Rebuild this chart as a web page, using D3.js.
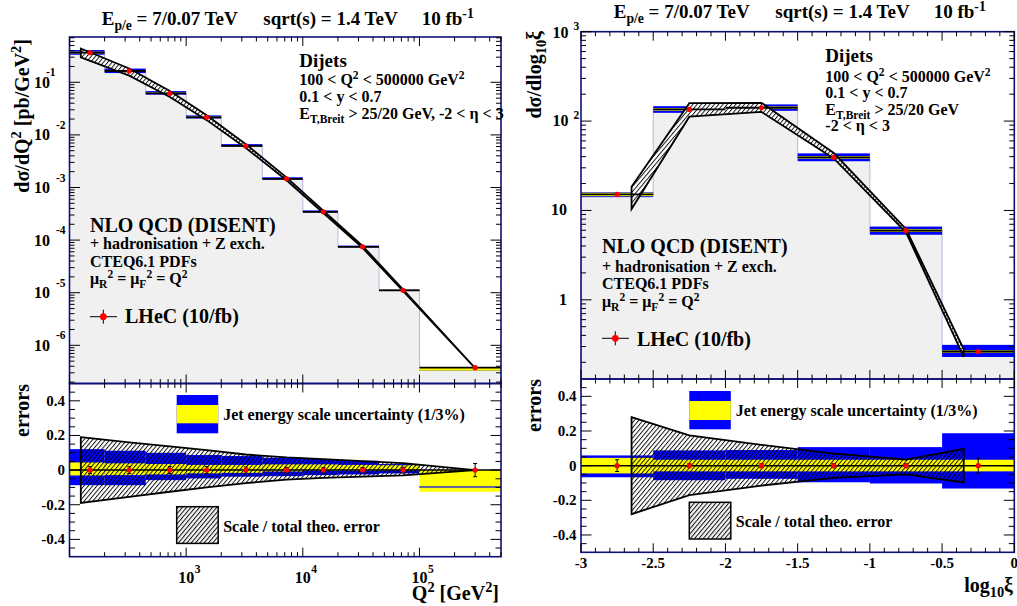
<!DOCTYPE html>
<html><head><meta charset="utf-8">
<script src="https://cdn.jsdelivr.net/npm/d3@7"></script>
<style>
body{margin:0;background:#fff}
svg{display:block}
text{font-family:"Liberation Serif","Times New Roman",serif;font-weight:bold;fill:#000;white-space:pre}
</style>
</head><body><svg id="c" width="1017" height="606"></svg>
<script>
// ---------------- DATA ----------------
// Left: dσ/dQ²
const q2Edges   = [100, 200, 450, 1000, 2000, 4500, 10000, 20000, 45000, 100000, 500000];
const q2Centers = [150, 325, 725, 1500, 3250, 7250, 15000, 32500, 72500, 300000];
const q2Vals    = [0.366, 0.164, 0.0618, 0.0216, 0.00618, 0.00146, 3.45e-4, 7.46e-5, 1.11e-5, 3.76e-7];
const q2Err     = [0.02, 0.02, 0.02, 0.02, 0.018, 0.016, 0.015, 0.015, 0.016, 0.038];
const q2JesYhi  = [0.044, 0.039, 0.035, 0.030, 0.030, 0.033, 0.033, 0.030, 0.028, 0.0];
const q2JesYlo  = [-0.031, -0.029, -0.025, -0.019, -0.016, -0.008, -0.004, -0.003, -0.002, -0.125];
const q2JesBhi  = [0.121, 0.112, 0.100, 0.087, 0.081, 0.071, 0.064, 0.054, 0.035, -0.094];
const q2JesBlo  = [-0.087, -0.087, -0.058, -0.048, -0.038, -0.035, -0.029, -0.025, -0.019, -0.099];
const q2ThX     = [125, 325, 725, 1500, 3250, 7250, 15000, 32500, 72500, 300000];
const q2ThVal   = [0.369, 0.158, 0.060, 0.0212, 0.0061, 0.00145, 3.42e-4, 7.4e-5, 1.1e-5, 3.7e-7];
const q2ThUp    = [0.19, 0.16, 0.137, 0.115, 0.09, 0.073, 0.063, 0.052, 0.04, 0.0];
const q2ThDn    = [0.19, 0.155, 0.125, 0.10, 0.075, 0.055, 0.045, 0.038, 0.03, 0.0];
const q2YTicks  = [-1, -2, -3, -4, -5, -6];      // labelled exponents
const q2XTicks  = [3, 4, 5];                     // labelled exponents

// Right: dσ/dlog10ξ
const xiEdges   = [-3, -2.5, -2, -1.5, -1, -0.5, 0];
const xiCenters = [-2.75, -2.25, -1.75, -1.25, -0.75, -0.25];
const xiVals    = [15.1, 135, 141, 39.3, 5.96, 0.264];
const xiErr     = [0.034, 0.012, 0.012, 0.012, 0.012, 0.043];
const xiJesYhi  = [0.045, 0.034, 0.034, 0.034, 0.034, 0.034];
const xiJesYlo  = [-0.045, -0.033, -0.033, -0.033, -0.033, -0.033];
const xiJesBhi  = [0.059, 0.088, 0.090, 0.107, 0.107, 0.187];
const xiJesBlo  = [-0.067, -0.084, -0.076, -0.096, -0.103, -0.132];
const xiThX     = [-2.65, -2.25, -1.75, -1.25, -0.75, -0.35];
const xiThVal   = [14.4, 135, 143, 41, 6.0, 0.255];
const xiThUp    = [0.28, 0.175, 0.12, 0.07, 0.035, 0.097];
const xiThDn    = [0.28, 0.17, 0.115, 0.07, 0.05, 0.097];
const xiXTicks  = ["-3", "-2.5", "-2", "-1.5", "-1", "-0.5", "0"];
const errTicks  = ["0.4", "0.2", "0", "-0.2", "-0.4"];

const titleParts = ["E_{p/e} = 7/0.07 TeV", "sqrt(s) = 1.4 TeV", "10 fb^{-1}"];
const cutLinesL = ["100 < Q^{2} < 500000 GeV^{2}", "0.1 < y < 0.7", "E_{T,Breit} > 25/20 GeV, -2 < η < 3"];
const cutLinesR = ["100 < Q^{2} < 500000 GeV^{2}", "0.1 < y < 0.7", "E_{T,Breit} > 25/20 GeV", "-2 < η < 3"];
const theoLines = ["+ hadronisation + Z exch.", "CTEQ6.1 PDFs", "μ_{R}^{2} = μ_{F}^{2} = Q^{2}"];

// ---------------- HELPERS ----------------
const svg = d3.select('#c');
const defs = svg.append('defs');
const pat = defs.append('pattern').attr('id','hatch').attr('patternUnits','userSpaceOnUse')
  .attr('width',3.3).attr('height',10).attr('patternTransform','rotate(40)');
pat.append('line').attr('x1',0.5).attr('y1',0).attr('x2',0.5).attr('y2',10).attr('stroke','#000').attr('stroke-width',0.9);

function rich(sel, str, size){
  const re=/([_^])\{([^}]*)\}/g; let last=0,m; const parts=[];
  while((m=re.exec(str))){ if(m.index>last) parts.push({t:str.slice(last,m.index),k:0}); parts.push({t:m[2],k:m[1]==='^'?1:-1}); last=re.lastIndex; }
  if(last<str.length) parts.push({t:str.slice(last),k:0});
  let cur=0;
  parts.forEach(p=>{
    const tgt = p.k===1? -0.38*size : p.k===-1? 0.25*size : 0;
    sel.append('tspan').attr('dy',tgt-cur).attr('font-size',p.k? size*0.72: size).text(p.t);
    cur=tgt;
  });
  return sel;
}
function txt(x,y,str,size,anchor){
  const t=svg.append('text').attr('x',x).attr('y',y).attr('font-size',size).attr('text-anchor',anchor||'start');
  return rich(t,str,size);
}
const isPow10 = v => Math.abs(Math.log10(v)-Math.round(Math.log10(v)))<1e-6;
const NAVY = '#10107a';

// ---------------- PANELS ----------------
const panels = [
 { name:'L', x0:69.5, x1:501, tTop:37, tBot:383.5, bBot:556.7,
   x: d3.scaleLog().domain([100,5e5]).range([69.5,501]),
   yT: d3.scaleLog().domain([1.88e-7,0.726]).range([383.5,37]),
   edges:q2Edges, centers:q2Centers, vals:q2Vals, err:q2Err,
   yhi:q2JesYhi, ylo:q2JesYlo, bhi:q2JesBhi, blo:q2JesBlo,
   thX:q2ThX, thV:q2ThVal, thU:q2ThUp, thD:q2ThDn },
 { name:'R', x0:581, x1:1014.3, tTop:31.7, tBot:379, bBot:552.3,
   x: d3.scaleLinear().domain([-3,0]).range([581,1014.3]),
   yT: d3.scaleLog().domain([0.13,1000]).range([379,31.7]),
   edges:xiEdges, centers:xiCenters, vals:xiVals, err:xiErr,
   yhi:xiJesYhi, ylo:xiJesYlo, bhi:xiJesBhi, blo:xiJesBlo,
   thX:xiThX, thV:xiThVal, thU:xiThUp, thD:xiThDn }
];

panels.forEach(P=>{
  P.yB = d3.scaleLinear().domain([-0.5,0.5]).range([P.bBot,P.tBot]);
  const x=P.x, yT=P.yT, yB=P.yB, n=P.vals.length;
  const gT = svg.append('g');
  const clipId='clip'+P.name;
  defs.append('clipPath').attr('id',clipId).append('rect').attr('x',P.x0).attr('y',P.tTop).attr('width',P.x1-P.x0).attr('height',P.bBot-P.tTop);
  gT.attr('clip-path',`url(#${clipId})`);

  // --- top: histogram fill
  let d=`M${x(P.edges[0])},${P.tBot}`;
  P.vals.forEach((v,i)=>{ d+=`V${yT(v)}H${x(P.edges[i+1])}`; });
  d+=`V${P.tBot}`;
  gT.append('path').attr('d',d).attr('fill','#f0f0f0').attr('stroke','#b4b8dc').attr('stroke-width',1);

  // --- top: JES bands
  P.vals.forEach((v,i)=>{
    const xa=x(P.edges[i]), xb=x(P.edges[i+1]);
    gT.append('rect').attr('x',xa).attr('width',xb-xa).attr('y',yT(v*(1+P.bhi[i]))).attr('height',Math.max(1,yT(v*(1+P.blo[i]))-yT(v*(1+P.bhi[i])))).attr('fill','#0000ff');
    gT.append('rect').attr('x',xa).attr('width',xb-xa).attr('y',yT(v*(1+P.yhi[i]))).attr('height',Math.max(1,yT(v*(1+P.ylo[i]))-yT(v*(1+P.yhi[i])))).attr('fill','#ffff00');
  });

  // --- top: theory band
  const upT = P.thX.map((xx,i)=>[x(xx), yT(P.thV[i]*(1+P.thU[i]))]);
  const dnT = P.thX.map((xx,i)=>[x(xx), yT(P.thV[i]*(1-P.thD[i]))]).reverse();
  const polyT = d3.line()(upT.concat(dnT))+'Z';
  gT.append('path').attr('d',polyT).attr('fill','#fff');
  gT.append('path').attr('d',polyT).attr('fill','url(#hatch)').attr('stroke','#000').attr('stroke-width',1.8).attr('stroke-linejoin','miter');

  // --- top: data
  P.vals.forEach((v,i)=>{
    gT.append('line').attr('x1',x(P.edges[i])).attr('x2',x(P.edges[i+1])).attr('y1',yT(v)).attr('y2',yT(v)).attr('stroke','#000').attr('stroke-width',1.8);
    gT.append('line').attr('x1',x(P.centers[i])).attr('x2',x(P.centers[i])).attr('y1',yT(v*(1+P.err[i]))).attr('y2',yT(v*(1-P.err[i]))).attr('stroke','#000').attr('stroke-width',1);
    gT.append('circle').attr('cx',x(P.centers[i])).attr('cy',yT(v)).attr('r',2.6).attr('fill','#ff0000');
  });

  // --- bottom: JES relative bands
  const gB = svg.append('g').attr('clip-path',`url(#${clipId})`);
  const band=(i,lo,hi,col)=>{ const xa=x(P.edges[i]), xb=x(P.edges[i+1]);
    gB.append('rect').attr('x',xa).attr('width',xb-xa).attr('y',yB(hi)).attr('height',Math.max(1.2,yB(lo)-yB(hi))).attr('fill',col); };
  for(let i=0;i<n;i++) band(i,P.blo[i],P.bhi[i],'#0000ff');
  for(let i=0;i<n;i++) band(i,P.ylo[i],P.yhi[i],'#ffff00');
  for(let i=0;i<n;i++) if(P.blo[i]>=P.ylo[i] && P.bhi[i]<=P.yhi[i]) band(i,P.blo[i],P.bhi[i],'#0000ff');

  // --- bottom: theory relative band
  const upB = P.thX.map((xx,i)=>[x(xx), yB(P.thU[i])]);
  const dnB = P.thX.map((xx,i)=>[x(xx), yB(-P.thD[i])]).reverse();
  gB.append('path').attr('d',d3.line()(upB.concat(dnB))+'Z').attr('fill','url(#hatch)').attr('stroke','#000').attr('stroke-width',1.8);

  // zero line
  gB.append('line').attr('x1',P.x0).attr('x2',P.x1).attr('y1',yB(0)).attr('y2',yB(0)).attr('stroke','#000').attr('stroke-width',1.5);
  P.vals.forEach((v,i)=>{
    const cx=x(P.centers[i]);
    gB.append('line').attr('x1',cx).attr('x2',cx).attr('y1',yB(P.err[i])).attr('y2',yB(-P.err[i])).attr('stroke','#000').attr('stroke-width',1);
    [P.err[i],-P.err[i]].forEach(e=>gB.append('line').attr('x1',cx-2).attr('x2',cx+2).attr('y1',yB(e)).attr('y2',yB(e)).attr('stroke','#000').attr('stroke-width',1));
    gB.append('circle').attr('cx',cx).attr('cy',yB(0)).attr('r',2.6).attr('fill','#ff0000');
  });

  // --- frames
  [[P.tTop,P.tBot],[P.tBot,P.bBot]].forEach(([a,b])=>{
    svg.append('rect').attr('x',P.x0).attr('y',a).attr('width',P.x1-P.x0).attr('height',b-a).attr('fill','none').attr('stroke',NAVY).attr('stroke-width',1.6);
  });

  // --- ticks
  const tk = svg.append('g').attr('stroke','#000').attr('stroke-width',1);
  const xt = P.name==='L' ? x.ticks() : d3.range(-30,1).map(k=>k/10);
  const xMajor = v => P.name==='L' ? isPow10(v) : Math.abs(v*2-Math.round(v*2))<1e-6;
  [[P.tTop,1],[P.tBot,-1],[P.tBot,1],[P.bBot,-1]].forEach(([yy,dir])=>{
    xt.forEach(v=>{ const L= xMajor(v)?9:4.5; const xx=x(v);
      if(xx<P.x0-0.1||xx>P.x1+0.1) return;
      tk.append('line').attr('x1',xx).attr('x2',xx).attr('y1',yy).attr('y2',yy+dir*L); });
  });
  yT.ticks().forEach(v=>{ const yy=yT(v); const L=isPow10(v)?10.5:5;
    tk.append('line').attr('x1',P.x0).attr('x2',P.x0+L).attr('y1',yy).attr('y2',yy);
    tk.append('line').attr('x1',P.x1).attr('x2',P.x1-L).attr('y1',yy).attr('y2',yy); });
  d3.range(-10,11).map(k=>k*0.05).forEach(v=>{ if(Math.abs(v)>0.499) return; const yy=yB(v);
    const maj=Math.abs(v*5-Math.round(v*5))<1e-6; const L=maj?10.5:5.5;
    tk.append('line').attr('x1',P.x0).attr('x2',P.x0+L).attr('y1',yy).attr('y2',yy);
    tk.append('line').attr('x1',P.x1).attr('x2',P.x1-L).attr('y1',yy).attr('y2',yy); });

  // --- lower tick labels
  errTicks.forEach(s=>{ txt(P.x0-4.5, yB(+s)+5, s, 15, 'end'); });

  // --- legends in lower panel
  const lx = P.name==='L'?176.7:689.3, lw=41.5;
  const ly = P.name==='L'?395:391;
  const bh = P.name==='L'?[10,18.3,10]:[10,19,9.3];
  svg.append('rect').attr('x',lx).attr('y',ly).attr('width',lw).attr('height',bh[0]+bh[1]+bh[2]).attr('fill','#0000ff');
  svg.append('rect').attr('x',lx).attr('y',ly+bh[0]).attr('width',lw).attr('height',bh[1]).attr('fill','#ffff00');
  txt(lx+46.5, ly+24.5, "Jet energy scale uncertainty (1/3%)", 16);
  const l2y = P.name==='L'?506.7:502.3, l2h=36.7;
  svg.append('rect').attr('x',lx).attr('y',l2y).attr('width',lw).attr('height',l2h).attr('fill','#f0f0f0');
  svg.append('rect').attr('x',lx).attr('y',l2y).attr('width',lw).attr('height',l2h).attr('fill','url(#hatch)').attr('stroke','#000').attr('stroke-width',1.5);
  txt(lx+46.5, l2y+25, "Scale / total theo. error", 16);
});

// ---------------- LEFT AXIS LABELS ----------------
const PL=panels[0], PR=panels[1];
q2YTicks.forEach(e=>{
  const yy=PL.yT(Math.pow(10,e));
  txt(50, yy+5.5, "10", 16, 'end');
  txt(e===-1?46:56, yy-6, String(e), 11.5, 'start');
});
q2XTicks.forEach(e=>{
  const xx=PL.x(Math.pow(10,e));
  txt(xx, 583.3, "10", 16, 'middle');
  txt(xx+8.5, 572.5, String(e), 11.5, 'start');
});
xiXTicks.forEach(s=>{ txt(PR.x(+s), 568, s, 15, 'middle'); });
[3,2].forEach(e=>{ const yy=PR.yT(Math.pow(10,e));
  txt(568.5, yy+(e===3?6.6:4.5), "10", 16, 'end');
  txt(573.5, yy-(e===3?1.7:2.5), String(e), 11.5, 'start'); });
[[10,"10"],[1,"1"]].forEach(([v,s])=>{ txt(567, PR.yT(v)+5, s, 16, 'end'); });

// ---------------- TITLES ----------------
[[101.7,263.3,421.7,25],[613.7,775.3,933.7,18.3]].forEach(([a,b,c,y])=>{
  txt(a,y,titleParts[0],19); txt(b,y,titleParts[1],19); txt(c,y,titleParts[2],19);
});
function vtext(x,y,str,size){
  const t=svg.append('text').attr('transform',`translate(${x},${y}) rotate(-90)`).attr('font-size',size).attr('text-anchor','end');
  rich(t,str,size);
}
vtext(29, 39, "dσ/dQ^{2} [pb/GeV^{2}]", 20);
vtext(541, 31, "dσ/dlog_{10}ξ", 20);
vtext(29, 384, "errors", 20);
vtext(541, 379, "errors", 20);
txt(499, 600, "Q^{2} [GeV^{2}]", 20, 'end');
txt(1013, 591.5, "log_{10}ξ", 20, 'end');

// ---------------- TEXT BLOCKS ----------------
txt(299.3, 66.7, "Dijets", 19);
cutLinesL.forEach((s,i)=>txt(299.3, 85+i*17, s, 16));
txt(825.3, 61.7, "Dijets", 19);
cutLinesR.forEach((s,i)=>txt(825.3, 81.7+i*16.5, s, 16));

txt(90, 231.7, "NLO QCD (DISENT)", 20);
theoLines.forEach((s,i)=>txt(90, 249.3+i*17.5, s, 16));
txt(602, 253.3, "NLO QCD (DISENT)", 20);
theoLines.forEach((s,i)=>txt(602, 271.7+i*17.5, s, 16));

// data legend
[[90,316.7,125,323.3],[602,338.3,637,345.7]].forEach(([x0,y0,tx,ty])=>{
  svg.append('line').attr('x1',x0).attr('x2',x0+27).attr('y1',y0).attr('y2',y0).attr('stroke','#000').attr('stroke-width',1);
  svg.append('line').attr('x1',x0+13.3).attr('x2',x0+13.3).attr('y1',y0-7).attr('y2',y0+7).attr('stroke','#000').attr('stroke-width',1);
  svg.append('circle').attr('cx',x0+13.3).attr('cy',y0).attr('r',3.4).attr('fill','#ff0000');
  txt(tx, ty, "LHeC (10/fb)", 20);
});
</script></body></html>
